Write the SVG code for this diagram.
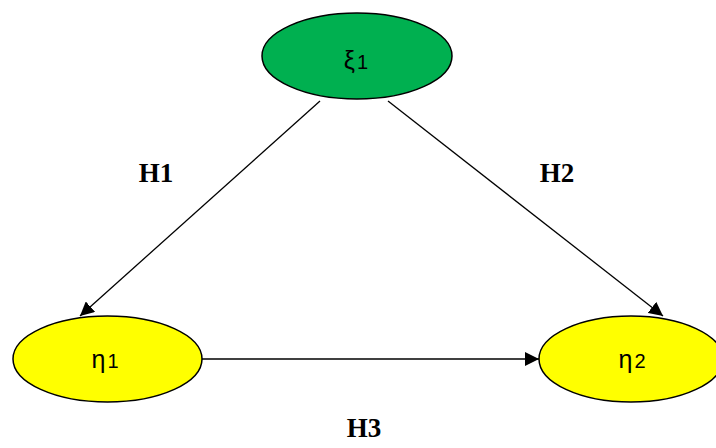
<svg xmlns="http://www.w3.org/2000/svg" width="716" height="448" viewBox="0 0 716 448">
<style>
.n{stroke:#000;stroke-width:1.5}
.c{stroke:#000;stroke-width:1.3;fill:none;marker-end:url(#ah)}
.g{font-family:"Liberation Sans",Arial,sans-serif;font-size:25px;fill:#000;text-anchor:middle}
.s{font-size:20px}
.h{font-family:"Liberation Serif","Times New Roman",serif;font-size:27px;font-weight:bold;fill:#000;text-anchor:middle}
</style>
<defs>
<marker id="ah" viewBox="0 0 10 10" refX="10" refY="5" markerWidth="14" markerHeight="14" markerUnits="userSpaceOnUse" orient="auto">
<path d="M0,0 L10,5 L0,10 z" fill="#000"/>
</marker>
</defs>
<g id="connectors">
<line class="c" x1="320" y1="101" x2="80" y2="316"/>
<line class="c" x1="388" y1="101" x2="663" y2="316"/>
<line class="c" x1="202" y1="359" x2="539" y2="359"/>
</g>
<g id="xi1">
<ellipse class="n" cx="357" cy="56" rx="95" ry="43" fill="#00b050"/>
<text class="g" x="356" y="69">ξ<tspan class="s" dx="2">1</tspan></text>
</g>
<g id="eta1">
<ellipse class="n" cx="107.5" cy="359" rx="94.5" ry="43" fill="#ffff00"/>
<text class="g" x="105" y="368">η<tspan class="s" dx="2">1</tspan></text>
</g>
<g id="eta2">
<ellipse class="n" cx="631" cy="359" rx="92" ry="43" fill="#ffff00"/>
<text class="g" x="632" y="368">η<tspan class="s" dx="2">2</tspan></text>
</g>
<g id="labels">
<text class="h" x="156" y="182">H1</text>
<text class="h" x="557" y="182">H2</text>
<text class="h" x="364" y="437">H3</text>
</g>
</svg>
